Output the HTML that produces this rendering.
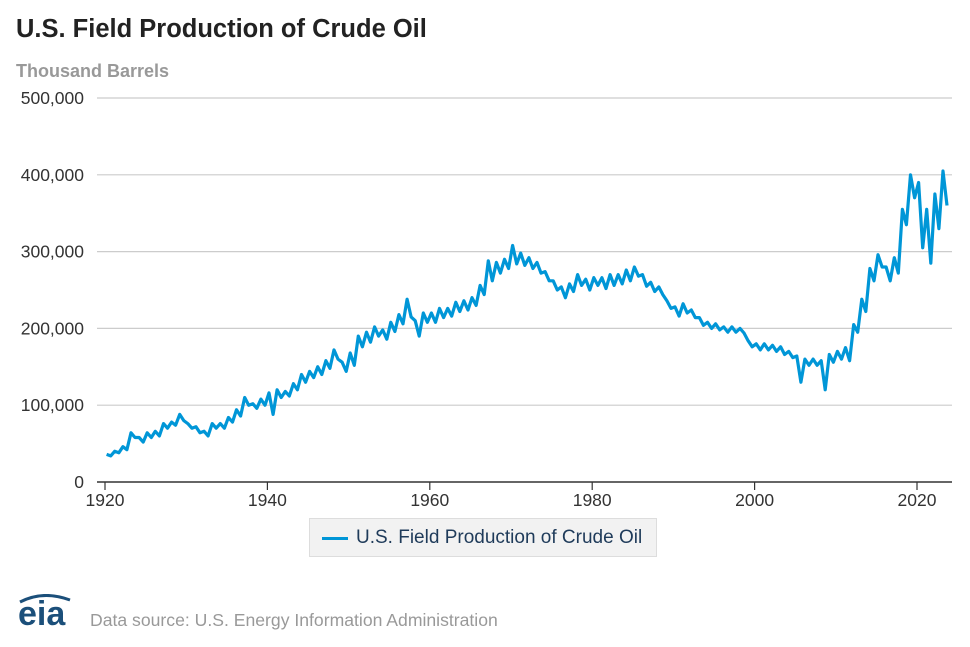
<!DOCTYPE html>
<html><head><meta charset="utf-8"><style>
body{margin:0;width:970px;height:647px;background:#fff;font-family:"Liberation Sans",Arial,sans-serif;overflow:hidden;position:relative}
.t{position:absolute}
</style></head><body>
<div class="t" style="left:16px;top:15px;font-size:25.5px;font-weight:bold;color:#222">U.S. Field Production of Crude Oil</div>
<div class="t" style="left:16px;top:61px;font-size:18px;font-weight:bold;color:#999">Thousand Barrels</div>
<svg class="t" style="left:0;top:0" width="970" height="647" id="chart"></svg>
<div class="t" style="left:309px;top:518px;width:348px;height:39px;background:#f2f2f2;border:1px solid #ddd;box-sizing:border-box">
 <div style="position:absolute;left:12px;top:18px;width:26px;height:3px;background:#0096d7"></div>
 <div style="position:absolute;left:46px;top:8px;font-size:19px;color:#1f3b5a">U.S. Field Production of Crude Oil</div>
</div>
<svg class="t" style="left:18px;top:594px" width="60" height="36">
 <text x="0" y="31" font-family="Liberation Sans" font-size="34" font-weight="bold" fill="#1b4f7a">eia</text>
 <path d="M2 8 Q25 -4 52 6" stroke="#1b4f7a" stroke-width="3" fill="none"/>
</svg>
<div class="t" style="left:90px;top:610px;font-size:17.6px;color:#999">Data source: U.S. Energy Information Administration</div>
<script>
const yTicks=[0,100000,200000,300000,400000,500000];
const xTicks=[1920,1940,1960,1980,2000,2020];
const years=[1920,1921,1922,1923,1924,1925,1926,1927,1928,1929,1930,1931,1932,1933,1934,1935,1936,1937,1938,1939,1940,1941,1942,1943,1944,1945,1946,1947,1948,1949,1950,1951,1952,1953,1954,1955,1956,1957,1958,1959,1960,1961,1962,1963,1964,1965,1966,1967,1968,1969,1970,1971,1972,1973,1974,1975,1976,1977,1978,1979,1980,1981,1982,1983,1984,1985,1986,1987,1988,1989,1990,1991,1992,1993,1994,1995,1996,1997,1998,1999,2000,2001,2002,2003,2004,2005,2006,2007,2008,2009,2010,2011,2012,2013,2014,2015,2016,2017,2018,2019,2020,2021,2022,2023];
const highs=[36,40,46,64,58,64,66,76,78,88,76,72,66,76,76,84,94,110,102,108,116,120,118,128,140,144,150,158,172,156,168,190,195,202,198,208,218,238,210,220,220,226,226,234,236,240,256,288,286,290,308,298,292,286,274,262,254,258,270,264,266,266,270,270,276,280,270,260,254,236,228,232,224,214,208,206,202,202,200,184,180,180,178,176,170,164,160,160,158,166,170,175,205,238,278,296,280,292,355,400,390,355,375,405];
const lows=[34,38,42,58,52,58,60,70,74,80,70,64,60,70,70,78,86,100,96,100,88,110,112,120,130,136,140,148,160,144,152,176,182,190,186,196,206,215,190,208,208,214,216,222,224,230,244,262,272,278,284,282,278,272,262,250,240,248,256,250,256,252,256,258,262,268,255,248,244,226,216,220,214,204,200,198,195,195,194,176,172,172,170,166,162,130,152,152,120,156,160,158,195,222,262,280,262,272,335,370,305,285,330,360];
const svg=document.getElementById('chart');
const NS='http://www.w3.org/2000/svg';
const X0=97,X1=952,Y0=482,Y1=98;
const xs=y=>105+(y-1920)*(917-105)/100;
const ys=v=>Y0-(v/500000)*(Y0-Y1);
function mk(t,a){const e=document.createElementNS(NS,t);for(const k in a)e.setAttribute(k,a[k]);svg.appendChild(e);return e;}
yTicks.forEach(v=>{
 const g=mk('line',{x1:X0,x2:X1,y1:ys(v),y2:ys(v),stroke:v===0?'#333':'#ccc','stroke-width':v===0?1.5:1.2});
 
 
 const t=mk('text',{x:84,y:ys(v)+6,'text-anchor':'end','font-size':17.5,fill:'#333','font-family':'Liberation Sans'});
 t.textContent=v.toLocaleString('en-US');
 
 
});
xTicks.forEach(y=>{
 const l=mk('line',{x1:xs(y),x2:xs(y),y1:Y0,y2:Y0+8,stroke:'#333','stroke-width':1.2});
 
 
 const t=mk('text',{x:xs(y),y:Y0+24,'text-anchor':'middle','font-size':17.5,fill:'#333','font-family':'Liberation Sans'});
 t.textContent=y;
 
 
});
let d='';
years.forEach((y,i)=>{
 d+=(i?'L':'M')+xs(y+0.2).toFixed(1)+' '+ys(highs[i]*1000).toFixed(1);
 d+='L'+xs(y+0.7).toFixed(1)+' '+ys(lows[i]*1000).toFixed(1);
});
const p=mk('path',{d:d,fill:'none',stroke:'#0096d7','stroke-width':3.2,'stroke-linejoin':'round'});


</script>
</body></html>
